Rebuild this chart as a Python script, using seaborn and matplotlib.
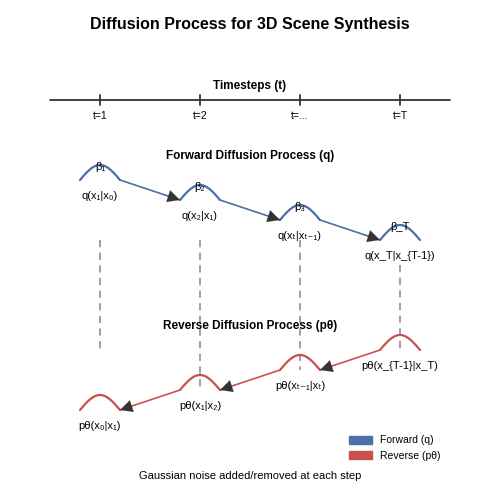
import numpy as np
import pandas as pd
import matplotlib
matplotlib.use("Agg")
import matplotlib.pyplot as plt
import seaborn as sns
from matplotlib.patches import Patch

sns.set_style("white")
plt.rcParams['font.family'] = ['Liberation Sans', 'DejaVu Sans']
plt.rcParams['text.color'] = 'black'

tick_labels = ["t=1", "t=2", "t=...", "t=T"]
step_x = [100, 200, 300, 400]
fwd_base = [180, 200, 220, 240]
rev_base = [410, 390, 370, 350]
beta_labels = ["β₁", "β₂", "β₃", "β_T"]
fwd_labels = ["q(x₁|x₀)", "q(x₂|x₁)", "q(xₜ|xₜ₋₁)", "q(x_T|x_{T-1})"]
rev_labels = ["pθ(x₀|x₁)", "pθ(x₁|x₂)", "pθ(xₜ₋₁|xₜ)", "pθ(x_{T-1}|x_T)"]
dash_ranges = [(240, 350), (240, 390), (240, 370), (265, 350)]
blue = "#4c6fa8"
red = "#c8504f"

fig = plt.figure(figsize=(5, 5), dpi=100)
ax = fig.add_axes([0, 0, 1, 1])
ax.set_xlim(0, 500)
ax.set_ylim(500, 0)
ax.axis("off")

ax.text(250, 24, "Diffusion Process for 3D Scene Synthesis", ha="center", va="center",
        fontsize=11.5, fontweight="bold")
ax.plot([50, 450], [100, 100], color="#333333", lw=1.3)
ax.text(250, 86, "Timesteps (t)", ha="center", va="center", fontsize=8.5, fontweight="bold")
for x, lab in zip(step_x, tick_labels):
    ax.plot([x, x], [95, 105], color="#333333", lw=1.3)
    ax.text(x, 116, lab, ha="center", va="center", fontsize=7.5)

def hump(xc, base, color):
    t = np.linspace(0, 1, 40)
    df = pd.DataFrame({"x": xc - 20 + 40 * t, "y": base - 15 * np.sin(np.pi * t)})
    sns.lineplot(data=df, x="x", y="y", ax=ax, color=color, lw=1.6, sort=False)

head = dict(arrowstyle="-|>", color="#333333", lw=0.1, mutation_scale=22, shrinkA=0, shrinkB=0)

ax.text(250, 156, "Forward Diffusion Process (q)", ha="center", va="center", fontsize=8.5, fontweight="bold")
for i, (x, b) in enumerate(zip(step_x, fwd_base)):
    hump(x, b, blue)
    ax.text(x, 167 + 20 * i, beta_labels[i], ha="center", va="center", fontsize=8)
    ax.text(x, b + 16, fwd_labels[i], ha="center", va="center", fontsize=8)
    if i < 3:
        ax.annotate("", xy=(x + 80, fwd_base[i + 1]), xytext=(x + 20, b),
                    arrowprops=dict(arrowstyle="-", color=blue, lw=1.2, shrinkA=0, shrinkB=0))
        ax.annotate("", xy=(x + 80, fwd_base[i + 1]), xytext=(x + 70, fwd_base[i + 1] - 3.3),
                    arrowprops=head)

for x, (y0, y1) in zip(step_x, dash_ranges):
    ax.plot([x, x], [y0, y1], color="#999999", lw=1.3, ls=(0, (4, 3)))

ax.text(250, 326, "Reverse Diffusion Process (pθ)", ha="center", va="center", fontsize=8.5, fontweight="bold")
for i, (x, b) in enumerate(zip(step_x, rev_base)):
    hump(x, b, red)
    ax.text(x, b + 16, rev_labels[i], ha="center", va="center", fontsize=8)
    if i < 3:
        ax.annotate("", xy=(x + 20, b), xytext=(x + 80, rev_base[i + 1]),
                    arrowprops=dict(arrowstyle="-", color=red, lw=1.2, shrinkA=0, shrinkB=0))
        ax.annotate("", xy=(x + 20, b), xytext=(x + 30, b - 3.3), arrowprops=head)

handles = [Patch(color=blue, label="Forward (q)"), Patch(color=red, label="Reverse (pθ)")]
ax.legend(handles=handles, loc="lower right", bbox_to_anchor=(0.9, 0.06), frameon=False,
          fontsize=7.5, handlelength=2.2, handleheight=0.9)
ax.text(250, 476, "Gaussian noise added/removed at each step", ha="center", va="center", fontsize=8)

fig.savefig("out.png", dpi=100)
